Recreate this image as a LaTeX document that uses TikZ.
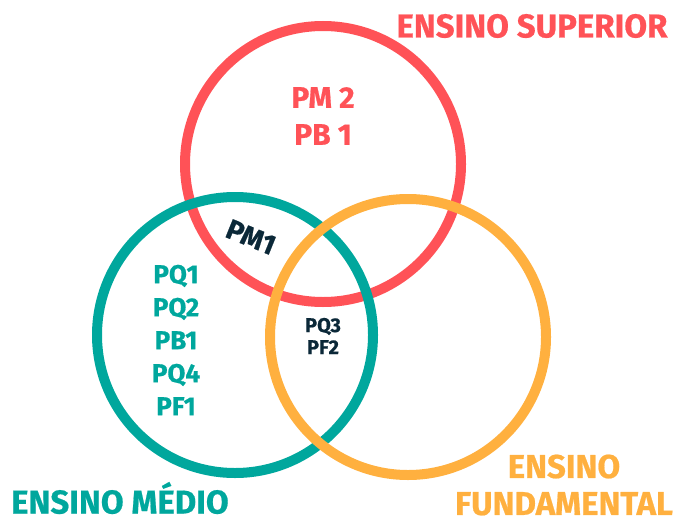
\documentclass[tikz,border=0pt]{standalone}
\usepackage{fontspec}
\setmainfont{Fira Sans}[BoldFeatures={FakeBold=0.6}]

\definecolor{supred}{HTML}{FF5257}
\definecolor{medteal}{HTML}{00A79D}
\definecolor{fundorange}{HTML}{FFB03F}
\definecolor{inkdark}{HTML}{0B2838}

\def\supcircle{(323, 164) circle [radius=138pt]}
\def\medcircle{(235, 335) circle [radius=138pt]}
\def\fundcircle{(408, 337) circle [radius=138pt]}

\tikzset{
  ring/.style={line width=10pt},
  title/.style={font=\bfseries\fontsize{33}{37}\selectfont, inner sep=0pt},
  item/.style={font=\bfseries\fontsize{26}{33}\selectfont, align=center, inner sep=0pt}
}

\begin{document}
\begin{tikzpicture}[x=1pt, y=-1pt]
    \useasboundingbox (0,0) rectangle (676,519);

    \draw[ring, supred] \supcircle;
    \draw[ring, medteal] \medcircle;
    \draw[ring, fundorange] \fundcircle;

    % Ensino Superior
    \node[title, text=supred] (sup) at (532, 26) {ENSINO SUPERIOR};
    \node[item, text=supred, font=\bfseries\fontsize{30}{37}\selectfont] (supitems) at (323, 116) {PM 2\\PB 1};

    % Ensino Medio
    \node[title, text=medteal, anchor=west] (med) at (11, 498) {ENSINO MÉDIO};
    \node[item, text=medteal] (meditems) at (176, 340) {PQ1\\PQ2\\PB1\\PQ4\\PF1};

    % Ensino Fundamental
    \node[title, text=fundorange, align=center] (fund) at (564, 485) {ENSINO\\FUNDAMENTAL};

    % intersections
    \node[item, text=inkdark, rotate=-22, font=\bfseries\fontsize{28}{33}\selectfont] (supmed) at (251, 237) {PM1};
    \node[item, text=inkdark, font=\bfseries\fontsize{20}{22}\selectfont] (medfund) at (323, 336) {PQ3\\PF2};

\end{tikzpicture}
\end{document}
